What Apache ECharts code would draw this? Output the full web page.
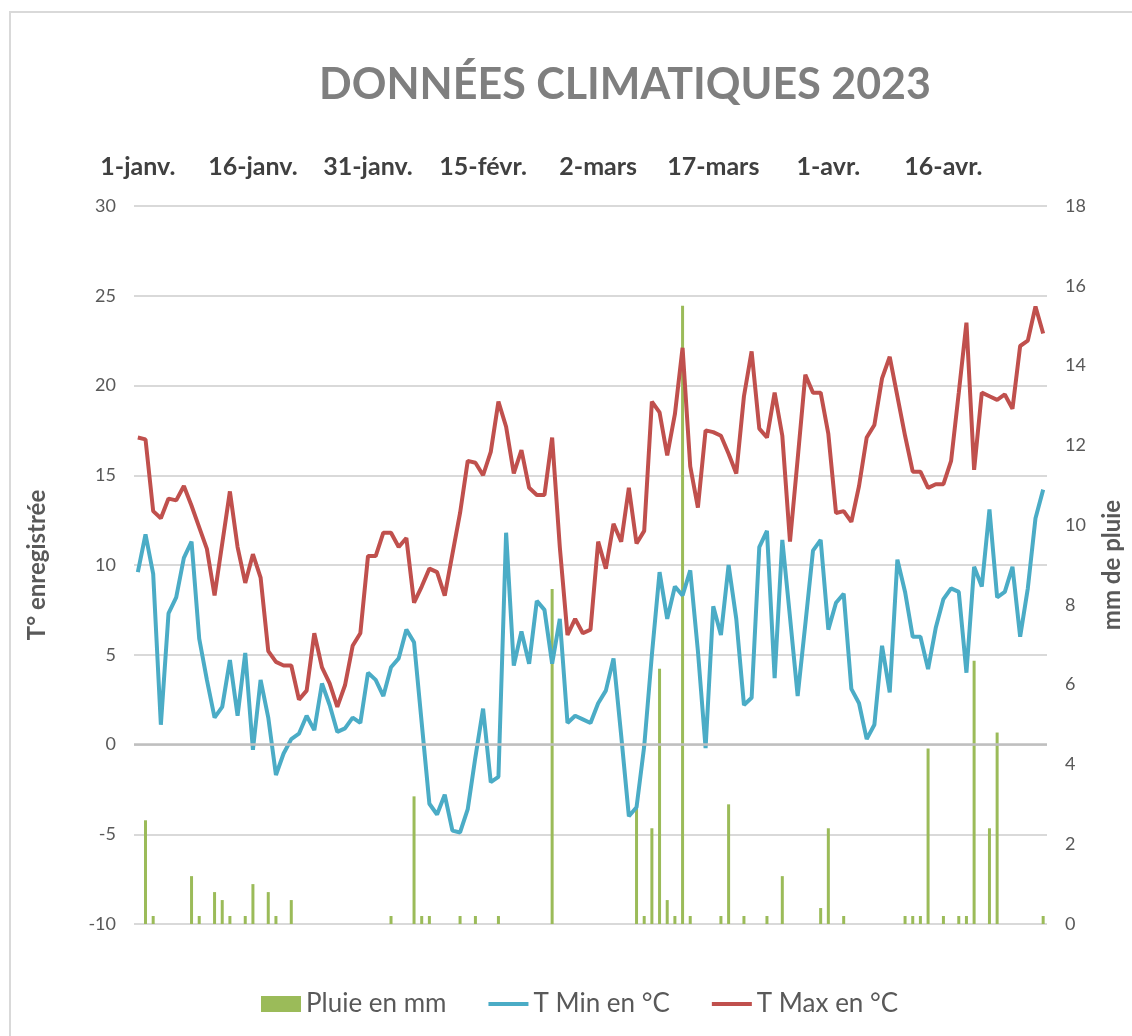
<!DOCTYPE html>
<html>
<head>
<meta charset="utf-8">
<title>Données climatiques 2023</title>
<script src="https://cdn.jsdelivr.net/npm/echarts@6.0.0/dist/echarts.min.js"></script>
<style>
    html, body { margin: 0; padding: 0; background: #fff; }
    #chart { width: 1132px; height: 1036px; }
</style>
</head>
<body>
<div id="chart"></div>
<script>
// mois de la periode (1 janv. -> 29 avr.)
var moisNoms = ['janv.', 'févr.', 'mars', 'avr.'];
var moisJours = [31, 28, 31, 29];

// T Max en °C, un point par jour
var tMax = [
    17.1, 17.0, 13.0, 12.6, 13.7, 13.6, 14.4, 13.3, 12.1, 10.9, 8.3, 11.2, 14.1, 11.0, 9.0,
    10.6, 9.3, 5.2, 4.6, 4.4, 4.4, 2.5, 3.0, 6.2, 4.3, 3.4, 2.1, 3.3, 5.5, 6.2,
    10.5, 10.5, 11.8, 11.8, 11.0, 11.5, 7.9, 8.8, 9.8, 9.6, 8.3, 10.6, 12.9, 15.8, 15.7,
    15.0, 16.3, 19.1, 17.7, 15.1, 16.4, 14.3, 13.9, 13.9, 17.1, 11.0, 6.1, 7.0, 6.2, 6.4,
    11.3, 9.8, 12.3, 11.3, 14.3, 11.2, 11.9, 19.1, 18.5, 16.1, 18.4, 22.1, 15.5, 13.2, 17.5,
    17.4, 17.2, 16.2, 15.1, 19.4, 21.9, 17.6, 17.1, 19.6, 17.2, 11.3, 15.9, 20.6, 19.6, 19.6,
    17.3, 12.9, 13.0, 12.4, 14.4, 17.1, 17.8, 20.4, 21.6, 19.4, 17.2, 15.2, 15.2, 14.3, 14.5,
    14.5, 15.8, 19.6, 23.5, 15.3, 19.6, 19.4, 19.2, 19.5, 18.7, 22.2, 22.5, 24.4, 22.9
];

// T Min en °C
var tMin = [
    9.6, 11.7, 9.5, 1.1, 7.3, 8.2, 10.4, 11.3, 5.9, 3.6, 1.5, 2.1, 4.7, 1.6, 5.1,
    -0.3, 3.6, 1.5, -1.7, -0.5, 0.3, 0.6, 1.6, 0.8, 3.4, 2.2, 0.7, 0.9, 1.5, 1.2,
    4.0, 3.6, 2.7, 4.3, 4.8, 6.4, 5.7, 1.2, -3.3, -3.9, -2.8, -4.8, -4.9, -3.6, -0.7,
    2.0, -2.1, -1.8, 11.8, 4.4, 6.3, 4.5, 8.0, 7.5, 4.5, 7.0, 1.2, 1.6, 1.4, 1.2,
    2.3, 3.0, 4.8, 0.5, -4.0, -3.5, -0.1, 5.0, 9.6, 7.0, 8.8, 8.3, 9.7, 5.2, -0.2,
    7.7, 6.1, 10.0, 7.0, 2.2, 2.6, 11.0, 11.9, 3.7, 11.4, 7.1, 2.7, 6.7, 10.8, 11.4,
    6.4, 7.9, 8.4, 3.1, 2.3, 0.3, 1.1, 5.5, 2.9, 10.3, 8.5, 6.0, 6.0, 4.2, 6.5,
    8.1, 8.7, 8.5, 4.0, 9.9, 8.8, 13.1, 8.2, 8.5, 9.9, 6.0, 8.7, 12.6, 14.2
];

// Pluie en mm
var pluie = [
    0, 2.6, 0.2, 0, 0, 0, 0, 1.2, 0.2, 0, 0.8, 0.6, 0.2, 0, 0.2,
    1.0, 0, 0.8, 0.2, 0, 0.6, 0, 0, 0, 0, 0, 0, 0, 0, 0,
    0, 0, 0, 0.2, 0, 0, 3.2, 0.2, 0.2, 0, 0, 0, 0.2, 0, 0.2,
    0, 0, 0.2, 0, 0, 0, 0, 0, 0, 8.4, 0, 0, 0, 0, 0,
    0, 0, 0, 0, 0, 2.9, 0.2, 2.4, 6.4, 0.6, 0.2, 15.5, 0.2, 0, 0,
    0, 0.2, 3.0, 0, 0.2, 0, 0, 0.2, 0, 1.2, 0, 0, 0, 0, 0.4,
    2.4, 0, 0.2, 0, 0, 0, 0, 0, 0, 0, 0.2, 0.2, 0.2, 4.4, 0,
    0.2, 0, 0.2, 0.2, 6.6, 0, 2.4, 4.8, 0, 0, 0, 0, 0, 0.2
];

var jours = [];
for (var m = 0; m < moisNoms.length; m++) {
    for (var j = 1; j <= moisJours[m]; j++) {
        jours.push(j + '-' + moisNoms[m]);
    }
}

var gris = '#595959';

window.onload = function () {
    var myChart = echarts.init(document.getElementById('chart'));
    var option = {
        textStyle: { fontFamily: 'Lato' },
        color: ['#9bbb59', '#4bacc6', '#c0504d'],
        animation: false,
        title: {
            text: 'DONNÉES CLIMATIQUES 2023',
            left: 620,
            textAlign: 'center',
            top: 59,
            textStyle: { fontSize: 43, fontWeight: 'bold', color: '#7f7f7f', fontFamily: 'Lato' }
        },
        graphic: [{
            type: 'rect',
            shape: { x: 10, y: 12, width: 1200, height: 1100 },
            style: { fill: null, stroke: '#d9d9d9', lineWidth: 2 },
            silent: true
        }],
        legend: {
            left: 256,
            top: 986,
            itemWidth: 40,
            itemHeight: 16,
            itemGap: 40,
            lineStyle: { width: 4 },
            textStyle: { fontSize: 26, color: gris },
            data: [
                { name: 'Pluie en mm', icon: 'rect' },
                { name: 'T Min en °C', itemStyle: { opacity: 0 } },  // pas de rond sur la ligne
                { name: 'T Max en °C', itemStyle: { opacity: 0 } }
            ]
        },
        grid: {  // zone du trace
            left: 134,
            right: 79,
            top: 206,
            bottom: 112
        },
        xAxis: {
            type: 'category',
            position: 'top',
            data: jours,
            axisLine: { show: false },
            axisTick: { show: false },
            axisLabel: {
                interval: 14,
                margin: 27,
                fontSize: 25,
                fontWeight: 'bold',
                color: '#404040'
            }
        },
        yAxis: [{
            type: 'value',
            min: -10,
            max: 30,
            interval: 5,
            name: 'T° enregistrée',
            nameLocation: 'middle',
            nameGap: 85,
            nameTextStyle: { fontSize: 24, fontWeight: 'bold', color: gris },
            axisLabel: { fontSize: 18, color: gris, margin: 18 },
            splitLine: { lineStyle: { color: '#d9d9d9', width: 2 } }
        }, {
            type: 'value',
            min: 0,
            max: 18,
            interval: 2,
            name: 'mm de pluie',
            nameLocation: 'middle',
            nameGap: 53,
            nameTextStyle: { fontSize: 24, fontWeight: 'bold', color: gris },
            axisLabel: { fontSize: 18, color: gris, margin: 18 },
            splitLine: { show: false }
        }],
        series: [{
            name: 'Pluie en mm',
            type: 'bar',
            yAxisIndex: 1,
            barWidth: 3,
            data: pluie
        }, {
            name: 'T Min en °C',
            type: 'line',
            symbol: 'none',
            lineStyle: { width: 4 },
            data: tMin,
            markLine: {  // ligne du zero
                silent: true,
                symbol: 'none',
                label: { show: false },
                lineStyle: { color: '#bfbfbf', width: 2.5, type: 'solid' },
                data: [{ yAxis: 0 }]
            }
        }, {
            name: 'T Max en °C',
            type: 'line',
            symbol: 'none',
            lineStyle: { width: 4 },
            data: tMax
        }]
    };
    myChart.setOption(option);
};
</script>
</body>
</html>
